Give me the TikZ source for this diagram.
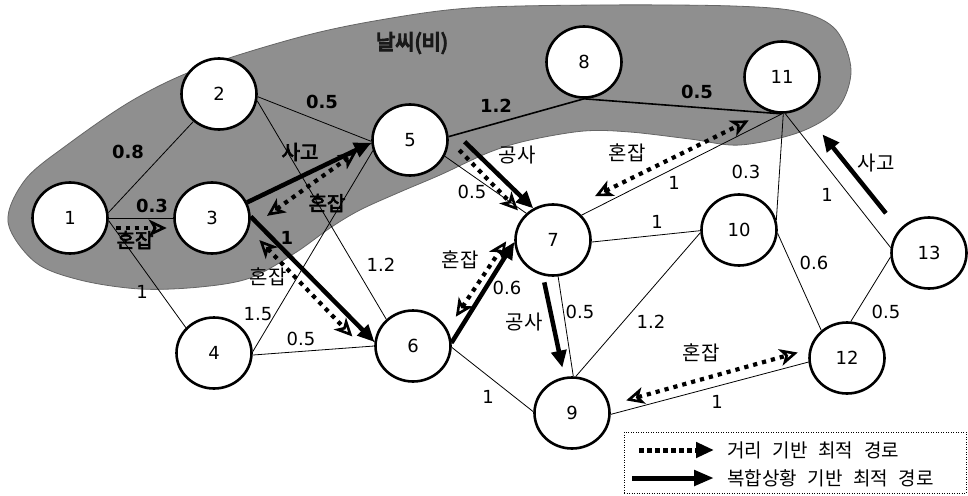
\documentclass[tikz,border=0pt]{standalone}
\usepackage{fontspec}
\setmainfont{DejaVu Sans}
\newfontfamily\kr{Noto Sans CJK KR}
\newfontfamily\krwide[WordSpace=2.5]{Noto Sans CJK KR}
\usetikzlibrary{arrows.meta,shapes.geometric}
% heavier strokes for labels set inside the rain zone
\newcommand\heavytext[1]{\special{pdf:code q 2 Tr 0.7 w}#1\special{pdf:code Q}}
\newcommand\heaviertext[1]{\special{pdf:code q 2 Tr 1.2 w}#1\special{pdf:code Q}}
\begin{document}
\begin{tikzpicture}[x=1pt, y=-1pt,
  vtx/.style={ellipse, draw, line width=2.6pt, fill=white, minimum width=75pt,
    minimum height=71pt, inner sep=0pt, font=\fontsize{18}{20}\selectfont},
  road/.style={line width=0.8pt},
  spine/.style={line width=1.6pt},
  comproute/.style={line width=4.5pt, -{Triangle[length=17pt,width=15pt]}},
  distroute/.style={line width=4.2pt, dash pattern=on 4.2pt off 5pt},
  >={Stealth[open,length=18pt,width=17pt,inset=5pt,line width=2.6pt]},
  wt/.style={inner sep=0pt, font=\fontsize{18}{20}\selectfont},
  wtb/.style={inner sep=0pt, font=\fontsize{18}{20}\selectfont\bfseries},
  ev/.style={inner sep=0pt, font=\kr\fontsize{20}{22}\selectfont},
  legendtext/.style={inner sep=0pt, anchor=west, font=\krwide\fontsize{19}{22}\selectfont},
]
\useasboundingbox (0,0) rectangle (968,495);

% rain zone
\filldraw[fill=gray!88, draw=black!60, line width=0.8pt]
  plot[smooth cycle, tension=0.55] coordinates {
   (8,222) (25,180) (67,145) (133,100) (200,68) (300,37) (380,20) (470,8)
   (600,5) (733,6) (800,12) (836,30) (851,70) (838,108) (800,132) (740,145)
   (690,139) (630,132) (584,131) (530,140) (490,152) (440,175) (400,192)
   (360,210) (330,228) (295,253) (250,278) (200,287) (140,289) (80,280) (35,262)};
\node[ev, text=black!90, font=\kr\fontsize{21}{23}\selectfont] (rain) at (412,43) {\heaviertext{날씨(비)}};

% intersections
\node[vtx] (n1)  at (70,218)  {1};
\node[vtx] (n2)  at (219,94)  {2};
\node[vtx] (n3)  at (212,218) {3};
\node[vtx] (n4)  at (214,353) {4};
\node[vtx] (n5)  at (410,140) {5};
\node[vtx] (n6)  at (413,346) {6};
\node[vtx] (n7)  at (553,240) {7};
\node[vtx] (n8)  at (584,62)  {8};
\node[vtx] (n9)  at (572,413) {9};
\node[vtx] (n10) at (739,230) {10};
\node[vtx] (n11) at (782,77)  {11};
\node[vtx] (n12) at (847,358) {12};
\node[vtx] (n13) at (929,253) {13};

% road links
\draw[road] (n1.8) -- (n2.227);
\draw[road] (n1.east) -- (n3.west);
\draw[road] (n1.-4) -- (n4.138);
\draw[road] (n2.-4) -- (n5.182);
\draw[road] (n2.-10) -- (n6.135);
\draw[road] (n3.22) -- (n5.185);
\draw[road] (n3.2) -- (n6.174);
\draw[road] (n4.2) -- (n5.196);
\draw[road] (n4.-3) -- (n6.180);
\draw[road] (n5.-25) -- (n7.135);
\draw[road] (n6.3) -- (n7.185);
\draw[road] (n6.-2) -- (n9.178);
\draw[spine] (n5.5) -- (n8.south);
\draw[spine] (n8.south) -- (n11.-92);
\draw[road] (n7.41) -- (n11.-90);
\draw[road] (n11.-88) -- (n10.15);
\draw[road] (n11.-85) -- (n13.172);
\draw[road] (n7.-3) -- (n10.181);
\draw[road] (n7.-82) -- (n9.88);
\draw[road] (n10.184) -- (n9.84);
\draw[road] (n10.-5) -- (n12.133);
\draw[road] (n12.84) -- (n13.186);
\draw[road] (n12.186) -- (n9.-2);

% distance-based route
\draw[distroute, ->, shorten <=9pt, shorten >=8pt] (n1.-15.5) -- (n3.195.5);
\draw[distroute, <->, shorten <=22pt, shorten >=18pt] (n3.-16.5) -- (n5.182.3);
\draw[distroute, <->, shorten <=15pt, shorten >=39pt] (n3.-17) -- (n6.209.5);
\draw[distroute, ->, shorten <=15pt, shorten >=8pt] (n5.1) -- (n7.141.6);
\draw[distroute, <->, shorten <=15pt, shorten >=26pt] (n6.26) -- (n7.148);
\draw[distroute, <->, shorten <=26pt, shorten >=21pt] (n7.60) -- (n11.247.7);
\draw[distroute, <->, shorten <=17pt, shorten >=12pt] (n9.12) -- (n12.167);

% composite-situation route
\draw[comproute] (n3.24) -- (n5.184);
\draw[comproute] (n3.2) -- (n6.174);
\draw[comproute, shorten <=30pt] (n5.30) -- (n7.122);
\draw[comproute] (n6.5) -- (n7.183);
\draw[comproute, shorten <=7pt, shorten >=9.5pt] (n7.254) -- (n9.102);
\draw[comproute, shorten <=21pt, shorten >=33pt] (n13.142) -- (n11.-58);

% link weights
\node[wtb] (w12)  at (128,152) {0.8};
\node[wtb] (w13)  at (152,206) {0.3};
\node[wt]  (w14)  at (142,292) {1};
\node[wtb] (w25)  at (322,102) {0.5};
\node[wtb] (w36)  at (287,238) {1};
\node[wt]  (w26)  at (381,265) {1.2};
\node[wt]  (w45)  at (258,314) {1.5};
\node[wt]  (w46)  at (301,339) {0.5};
\node[wtb] (w58)  at (496,106) {1.2};
\node[wtb] (w811) at (697,92)  {0.5};
\node[wt]  (w57)  at (472,192) {0.5};
\node[wt]  (w67)  at (507,288) {0.6};
\node[wt]  (w711) at (674,183) {1};
\node[wt]  (w1110) at (746,172) {0.3};
\node[wt]  (w1113) at (827,195) {1};
\node[wt]  (w710) at (657,222) {1};
\node[wt]  (w1012) at (814,263) {0.6};
\node[wt]  (w1213) at (886,312) {0.5};
\node[wt]  (w79)  at (580,312) {0.5};
\node[wt]  (w109) at (651,322) {1.2};
\node[wt]  (w129) at (717,402) {1};
\node[wt]  (w69)  at (488,397) {1};

% incident labels
\node[ev] (c13)  at (135,240) {\heavytext{혼잡}};
\node[ev] (a35)  at (300,152) {\heavytext{사고}};
\node[ev] (c35)  at (327,203) {\heavytext{혼잡}};
\node[ev] (c36)  at (268,277) {혼잡};
\node[ev] (r57)  at (517,155) {공사};
\node[ev] (c67)  at (460,260) {혼잡};
\node[ev] (c711) at (627,153) {혼잡};
\node[ev] (a1311) at (876,163) {사고};
\node[ev] (r79)  at (524,322) {공사};
\node[ev] (c912) at (701,353) {혼잡};

% legend
\node[draw, line width=0.8pt, dash pattern=on 1pt off 1.5pt, minimum width=342pt,
  minimum height=61pt, inner sep=0pt] (leg) at (795,462.5) {};
\coordinate (la) at (639,450);
\coordinate (lb) at (714,450);
\coordinate (lc) at (632,478);
\coordinate (ld) at (714,478);
\draw[line width=5pt, dash pattern=on 5pt off 3pt, -{Triangle[length=18pt,width=15pt]}] (la) -- (lb);
\draw[line width=5pt, -{Triangle[length=20pt,width=15pt]}] (lc) -- (ld);
\node[legendtext] (lt1) at (727,450) {거리 기반 최적 경로};
\node[legendtext] (lt2) at (727,478) {복합상황 기반 최적 경로};
\end{tikzpicture}
\end{document}
